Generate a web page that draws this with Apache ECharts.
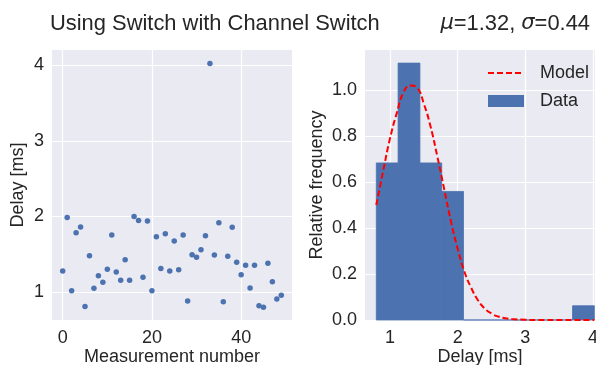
<!DOCTYPE html>
<html>
<head>
<meta charset="utf-8">
<script src="https://cdn.jsdelivr.net/npm/echarts@6/dist/echarts.min.js"></script>
<style>
html,body{margin:0;padding:0;background:#fff;}
#c{width:596px;height:365px;}
</style>
</head>
<body>
<div id="c"></div>
<script>
// Delay per measurement [ms] (measurement number = index)
const delays = [
  1.278, 1.984, 1.018, 1.785, 1.860, 0.810, 1.480, 1.050, 1.216, 1.130,
  1.300, 1.754, 1.265, 1.154, 1.428, 1.154, 2.000, 1.944, 1.194, 1.940,
  1.018, 1.730, 1.310, 1.770, 1.278, 1.675, 1.296, 1.754, 0.880, 1.494,
  1.459, 1.560, 1.745, 4.020, 1.490, 1.917, 0.872, 1.472, 1.856, 1.393,
  1.229, 1.353, 1.053, 1.353, 0.820, 0.797, 1.380, 1.137, 0.907, 0.956
];
// Histogram (density) bins
const binEdges = [0.797, 1.119, 1.442, 1.764, 2.086, 2.409, 2.731, 3.053, 3.376, 3.698, 4.020];
const binHeights = [0.683, 1.117, 0.683, 0.559, 0, 0, 0, 0, 0, 0.062];
// Model curve
const modelX = [0.797, 0.9, 1.0, 1.1, 1.2, 1.3, 1.4, 1.5, 1.6, 1.7, 1.8, 1.9, 2.0, 2.1, 2.2, 2.3, 2.4, 2.5, 2.6, 2.7, 2.8, 3.0, 3.2, 3.5, 4.02];
const modelY = [0.50, 0.65, 0.79, 0.90, 0.99, 1.02, 1.01, 0.94, 0.84, 0.71, 0.57, 0.43, 0.31, 0.21, 0.14, 0.086, 0.05, 0.028, 0.015, 0.0075, 0.004, 0.001, 0, 0, 0];
// Tick labels
const leftXTicks = [0, 20, 40];
const leftYTicks = [1, 2, 3, 4];
const rightXTicks = [1, 2, 3, 4];
const rightYTicks = [0, 0.2, 0.4, 0.6, 0.8, 1.0];

const FONT = "'Liberation Sans', Arial, sans-serif";
const TXT = '#262626';
const BLUE = '#4C72B0';
const BG = '#EAEAF2';

const chart = echarts.init(document.getElementById('c'), null, {renderer: 'canvas'});

const histData = binHeights.map((h, i) => [binEdges[i], binEdges[i + 1], h]);

const axisCommon = {
  axisLine: {show: false},
  splitLine: {show: true, lineStyle: {color: '#ffffff', width: 1.2}},
  nameTextStyle: {fontFamily: FONT, fontSize: 18, color: TXT},
};
const lbl = {fontFamily: FONT, fontSize: 18, color: TXT};

chart.setOption({
  animation: false,
  title: [
    {text: 'Using Switch with Channel Switch', left: 45, top: 7,
     textStyle: {fontFamily: FONT, fontSize: 21.9, fontWeight: 'normal', color: TXT, lineHeight: 24}},
    {text: '{i|μ}=1.32, {i|σ}=0.44', right: 1, top: 7,
     textStyle: {fontFamily: FONT, fontSize: 21.9, fontWeight: 'normal', color: TXT, lineHeight: 24,
       rich: {i: {fontFamily: "'DejaVu Sans'", fontStyle: 'italic', fontSize: 21, color: TXT}}}}
  ],
  legend: {
    left: 487, top: 64, orient: 'vertical', padding: 0,
    itemWidth: 36, itemHeight: 12, itemGap: 10,
    textStyle: {fontFamily: FONT, fontSize: 18, color: TXT, lineHeight: 18, padding: [0, 0, 0, 11]},
    data: [
      {name: 'Model', itemStyle: {opacity: 0, borderWidth: 0}, lineStyle: {color: '#FF0000', width: 2, type: [6, 3]}},
      {name: 'Data', icon: 'rect'}
    ]
  },
  grid: [
    {left: 52, top: 50, width: 240, height: 270, show: true, backgroundColor: BG, borderWidth: 0, outerBoundsMode: 'none', containLabel: false},
    {left: 365, top: 50, width: 230, height: 270, show: true, backgroundColor: BG, borderWidth: 0, outerBoundsMode: 'none', containLabel: false}
  ],
  xAxis: [
    Object.assign({}, axisCommon, {
      type: 'value', gridIndex: 0, min: -2.4, max: 51.4,
      name: 'Measurement number', nameLocation: 'middle', nameGap: 28, nameMoveOverlap: false,
      axisTick: {show: false, customValues: leftXTicks},
      axisLabel: Object.assign({customValues: leftXTicks, margin: 9}, lbl)
    }),
    Object.assign({}, axisCommon, {
      type: 'value', gridIndex: 1, min: 0.63, max: 4.03,
      name: 'Delay [ms]', nameLocation: 'middle', nameGap: 28, nameMoveOverlap: false,
      axisTick: {show: false, customValues: rightXTicks},
      axisLabel: Object.assign({customValues: rightXTicks, margin: 9}, lbl)
    })
  ],
  yAxis: [
    Object.assign({}, axisCommon, {
      type: 'value', gridIndex: 0, min: 0.63, max: 4.2,
      name: 'Delay [ms]', nameLocation: 'middle', nameGap: 25,
      axisTick: {show: false, customValues: leftYTicks},
      axisLabel: Object.assign({customValues: leftYTicks, margin: 8}, lbl)
    }),
    Object.assign({}, axisCommon, {
      type: 'value', gridIndex: 1, min: 0, max: 1.174,
      name: 'Relative frequency', nameLocation: 'middle', nameGap: 39,
      axisTick: {show: false, customValues: rightYTicks},
      axisLabel: Object.assign({customValues: rightYTicks, margin: 8, formatter: v => v.toFixed(1)}, lbl)
    })
  ],
  series: [
    {
      type: 'scatter', xAxisIndex: 0, yAxisIndex: 0,
      data: delays.map((v, i) => [i, v]),
      symbolSize: 5.5, itemStyle: {color: BLUE, opacity: 1}
    },
    {
      name: 'Data', type: 'custom', xAxisIndex: 1, yAxisIndex: 1,
      data: histData,
      itemStyle: {color: BLUE},
      encode: {x: [0, 1], y: 2},
      renderItem: function (params, api) {
        const p0 = api.coord([api.value(0), api.value(2)]);
        const p1 = api.coord([api.value(1), 0]);
        return {
          type: 'rect',
          shape: {x: p0[0], y: p0[1], width: p1[0] - p0[0], height: p1[1] - p0[1]},
          style: {fill: BLUE, stroke: BLUE, lineWidth: 0.8}
        };
      }
    },
    {
      name: 'Model', type: 'line', xAxisIndex: 1, yAxisIndex: 1,
      data: modelX.map((x, i) => [x, modelY[i]]),
      smooth: true, showSymbol: false, symbol: 'none', z: 5,
      lineStyle: {color: '#FF0000', width: 2, type: [6, 3]},
      itemStyle: {color: '#FF0000'}
    }
  ]
});
</script>
</body>
</html>
